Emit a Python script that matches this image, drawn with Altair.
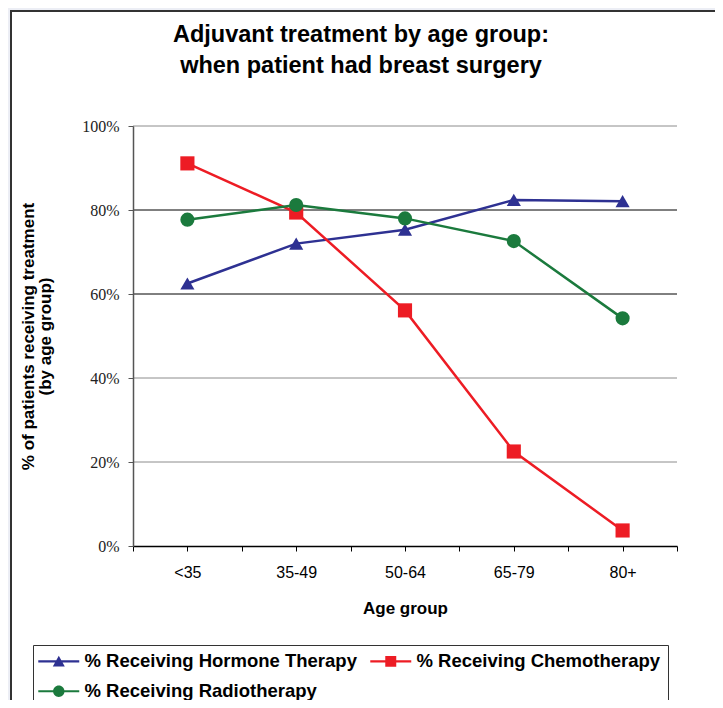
import json
import altair as alt
import pandas as pd

# ---- data ----
categories = ["<35", "35-49", "50-64", "65-79", "80+"]
series = ["% Receiving Hormone Therapy", "% Receiving Chemotherapy", "% Receiving Radiotherapy"]
hormone = [62.5, 72.0, 75.3, 82.4, 82.1]
chemo = [91.1, 79.4, 56.1, 22.5, 3.7]
radio = [77.7, 81.2, 78.0, 72.6, 54.2]
y_ticks = [0, 20, 40, 60, 80, 100]
dark_grid = [60, 80]

# ---- styles ----
colors = ["#2e3192", "#ed1c24", "#1b7a3d"]
markers = ["triangle-up", "square", "circle"]
# legend glyphs: line stub + marker (units of 6px)
legend_paths = [
    "M-1.83,-0.17H5H5V0.17H-1.83ZM0.59,0.85L1.59,-0.95L2.59,0.85Z",
    "M-1.83,-0.17H5V0.17H-1.83ZM0.67,-0.9H2.5V0.9H0.67Z",
    "M-1.83,-0.17H5V0.17H-1.83ZM2.54,0A0.95,0.95 0 1,1 0.64,0A0.95,0.95 0 1,1 2.54,0Z",
]
FONT = "Liberation Sans"

rows = []
for s, vals in zip(series, [hormone, chemo, radio]):
    for i, (c, v) in enumerate(zip(categories, vals)):
        rows.append({"series": s, "idx": i, "cat": c, "value": v})
df = pd.DataFrame(rows)

n = len(categories)
x_tick_vals = [i / 2 - 0.5 for i in range(2 * n + 1)]
label_expr = "datum.value % 1 == 0 ? " + json.dumps(categories) + "[datum.value] : ''"

x_enc = alt.X(
    "idx:Q",
    scale=alt.Scale(domain=[-0.5, n - 0.5], nice=False, zero=False),
    axis=alt.Axis(
        values=x_tick_vals, labelExpr=label_expr, labelFont=FONT, labelFontSize=16,
        labelColor="#000", labelPadding=13, labelOverlap=False, labelFlush=False,
        tickSize=5, tickColor="#000", domainColor="#000", domainWidth=1.5, grid=False,
        title="Age group", titleFont=FONT, titleFontSize=17, titleFontWeight="bold",
        titleColor="#000", titlePadding=20, zindex=1,
    ),
)
y_enc = alt.Y(
    "value:Q",
    scale=alt.Scale(domain=[0, 100], nice=False),
    axis=alt.Axis(
        values=y_ticks, labelExpr="datum.value + '%'", labelFont="Liberation Serif",
        labelFontSize=16, labelColor="#222", labelPadding=9, tickSize=5,
        tickColor="#555", domainColor="#555", domainWidth=1.5, grid=False,
        title=["% of patients receiving treatment", "(by age group)"],
        titleFont=FONT, titleFontSize=17, titleFontWeight="bold", titleColor="#000",
        titleLineHeight=17, titlePadding=27, zindex=1,
    ),
)
color_scale = alt.Scale(domain=series, range=colors)

layers = []

# white panel with border
panel = alt.Chart(alt.Data(values=[{"p": 1}])).mark_rect(
    fill="white", stroke="#333", strokeWidth=2
).encode(x=alt.value(-122), x2=alt.value(584), y=alt.value(-115), y2=alt.value(600))
layers.append(panel)

base = alt.Chart(df)

# legend-only layer (no rows drawn); placed first so its legend settings win the merge
legend_def = alt.Legend(
    title=None, orient="none", legendX=-100, legendY=519, direction="horizontal",
    columns=2, gridAlign="all", columnPadding=13, rowPadding=11, padding=7,
    strokeColor="#333", fillColor="white", symbolSize=144, symbolStrokeWidth=0,
    labelFont=FONT, labelFontSize=18.5, labelFontWeight="bold", labelColor="#000",
    labelOffset=26, labelLimit=500, zindex=1,
)
legend_layer = base.transform_filter("false").mark_point(
    filled=True, opacity=1, strokeWidth=0
).encode(
    x=x_enc, y=y_enc,
    color=alt.Color("series:N", scale=color_scale, legend=legend_def),
    shape=alt.Shape("series:N", scale=alt.Scale(domain=series, range=legend_paths), legend=legend_def),
)
layers.append(legend_layer)

# gridlines
grid_df = pd.DataFrame({"value": [v for v in y_ticks if v > 0]})
grid = alt.Chart(grid_df).mark_rule(strokeWidth=1).encode(
    y=y_enc,
    stroke=alt.condition(
        alt.FieldOneOfPredicate(field="value", oneOf=dark_grid),
        alt.value("#000"), alt.value("#8c8c8c"),
    ),
)
layers.append(grid)

for s, m in zip(series, markers):
    sub = base.transform_filter(alt.datum.series == s)
    enc = dict(x=x_enc, y=y_enc, color=alt.Color("series:N", scale=color_scale, legend=None))
    layers.append(sub.mark_line(strokeWidth=2.5).encode(**enc))
    layers.append(sub.mark_point(shape=m, filled=True, size=200, opacity=1).encode(**enc))

chart = alt.layer(*layers).properties(
    width=544, height=420,
    autosize=alt.AutoSizeParams(type="none"),
    padding={"left": 125, "top": 118, "right": 38, "bottom": 154},
    background="#eceef5",
    title=alt.TitleParams(
        text=["Adjuvant treatment by age group:", "when patient had breast surgery"],
        font=FONT, fontSize=23.5, fontWeight="bold", color="#000", lineHeight=31,
        anchor="middle", frame="group", dx=-44, offset=0, dy=67, zindex=1,
    ),
).configure_view(stroke=None)

chart.save("out.html", embed_options={"renderer": "svg", "actions": False})
